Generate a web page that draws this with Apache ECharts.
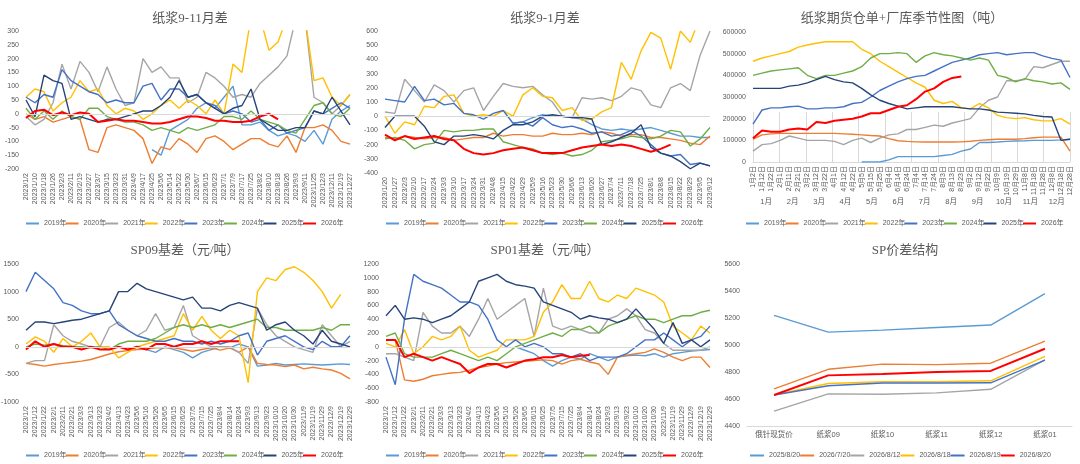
<!DOCTYPE html>
<html><head><meta charset="utf-8">
<script src="https://cdn.jsdelivr.net/npm/echarts@6/dist/echarts.min.js"></script>
<style>html,body{margin:0;padding:0;background:#fff}#c{width:1080px;height:464px}</style>
</head><body><div id="c"></div>
<script>
// ---------- shared ----------
const yearNames = ['2019年','2020年','2021年','2022年','2023年','2024年','2025年','2026年'];
const yearColors = ['#5B9BD5','#ED7D31','#A5A5A5','#FFC000','#4472C4','#70AD47','#264478','#FF0000'];

// ---------- panel 1: 纸浆9-11月差 ----------
const p1Dates = ['2023/1/2','2023/1/10','2023/1/18','2023/1/26','2023/2/3','2023/2/11','2023/2/19','2023/2/27','2023/3/7','2023/3/15','2023/3/23','2023/3/31','2023/4/9','2023/4/17','2023/4/25','2023/5/6','2023/5/14','2023/5/22','2023/5/30','2023/6/7','2023/6/15','2023/6/23','2023/7/1','2023/7/9','2023/7/17','2023/7/25','2023/8/2','2023/8/10','2023/8/18','2023/8/26','2023/9/3','2023/9/11','2023/11/25','2023/12/3','2023/12/11','2023/12/19','2023/12/27'];
const p1_2019 = [null,null,null,null,null,null,null,null,null,null,null,null,null,null,-130,-150,-60,-40,-20,20,40,20,60,100,-40,-40,-30,-60,-80,-70,-80,-100,-60,-110,-20,10,30];
const p1_2020 = [0,-20,-10,-30,-20,-10,-20,-130,-140,-50,-40,-50,-60,-90,-180,-120,-130,-90,-110,-140,-90,-80,-100,-130,-110,-90,-90,-110,-120,-80,-140,-50,-50,-40,-60,-100,-110];
const p1_2021 = [-10,-40,-20,40,180,90,190,150,80,170,90,30,40,200,150,170,130,130,40,60,150,130,100,60,70,60,110,140,170,210,350,350,60,40,0,30,70];
const p1_2022 = [60,90,80,10,40,60,120,80,90,30,0,20,10,-20,0,30,50,20,50,30,0,50,0,180,150,350,350,230,260,350,350,350,120,130,60,30,70];
const p1_2023 = [60,40,70,60,160,120,100,80,70,40,50,40,40,100,110,50,90,90,60,70,40,30,0,10,0,-30,-20,-60,-40,-70,-60,-50,10,0,20,40,20];
const p1_2024 = [20,-20,10,-20,10,-10,-20,20,20,-10,-20,-30,-30,-40,-60,-50,-60,-70,-50,-60,-50,-40,-10,-10,-20,10,-20,-30,-40,-60,-70,-20,30,40,0,-10,20];
const p1_2025 = [50,-10,140,120,110,-20,-10,-20,-30,-20,-20,-10,0,10,10,30,60,120,60,70,40,20,0,20,30,90,-20,-40,-60,-60,-50,-50,10,0,60,10,-40];
const p1_2026 = [-15,10,15,-5,5,-5,5,0,-30,-25,-20,-25,-25,-30,-35,-35,-30,-20,-10,-10,-15,-25,-25,-30,-30,-25,-10,0,-20,null,null,null,null,null,null,null,null];

// ---------- panel 2: 纸浆9-1月差 ----------
const p2Dates = ['2023/1/20','2023/1/27','2023/2/3','2023/2/10','2023/2/17','2023/2/24','2023/3/3','2023/3/10','2023/3/17','2023/3/24','2023/3/31','2023/4/8','2023/4/15','2023/4/22','2023/4/29','2023/5/9','2023/5/16','2023/5/23','2023/5/30','2023/6/6','2023/6/13','2023/6/20','2023/6/27','2023/7/4','2023/7/11','2023/7/18','2023/7/25','2023/8/1','2023/8/8','2023/8/15','2023/8/22','2023/8/29','2023/9/5','2023/9/12'];
const p2_2019 = [null,null,null,null,null,null,null,null,null,null,null,null,null,-50,-40,-10,10,0,0,-10,-20,-60,-90,-100,-90,-100,-90,-80,-100,-120,-140,-140,-150,-150];
const p2_2020 = [-150,-160,-140,-150,-160,-150,-150,-170,-160,-150,-150,-120,-140,-130,-130,-140,-140,-120,-130,-130,-120,-130,-110,-120,-140,-130,-130,-150,-150,-160,-170,-190,-200,-140];
const p2_2021 = [30,20,260,180,100,220,180,100,180,200,40,140,230,210,200,210,150,100,0,-10,130,120,130,110,140,200,180,80,60,200,230,180,430,600];
const p2_2022 = [0,-120,-40,-60,70,60,140,150,20,0,10,0,40,0,150,200,140,130,40,60,-30,-20,30,60,380,260,460,590,550,330,600,520,700,700];
const p2_2023 = [120,110,100,210,110,120,80,90,20,10,-20,20,40,-50,-40,-70,-10,-60,-80,-70,-90,-120,-110,-140,-130,-100,-140,-200,-260,-280,-270,-340,-330,-350];
const p2_2024 = [-160,-150,-170,-230,-200,-190,-100,-110,-100,-100,-90,-90,-180,-200,-220,-230,-260,-270,-260,-280,-270,-240,-180,-170,-160,-140,-150,-160,-140,-100,-110,-210,-160,-80];
const p2_2025 = [-80,0,0,0,-70,-180,-200,-140,-140,-130,-140,-160,-100,-60,-60,-40,0,10,0,-10,-10,-20,-200,-180,-150,-120,-60,-220,-260,-280,-320,-370,-330,-350];
const p2_2026 = [-130,-170,-140,-160,-150,-140,-160,-170,-230,-260,-270,-260,-240,-230,-220,-240,-260,-260,-260,-240,-220,-210,-200,-210,-200,-210,-230,-250,-230,-200,null,null,null,null];

// ---------- panel 3: 纸浆期货仓单+厂库季节性图（吨） ----------
const p3Days = ['1月2日','1月12日','1月22日','2月1日','2月11日','2月21日','3月2日','3月12日','3月22日','4月1日','4月12日','4月22日','5月5日','5月15日','5月25日','6月4日','6月14日','6月24日','7月4日','7月14日','7月24日','8月3日','8月13日','8月23日','9月2日','9月12日','9月22日','10月9日','10月19日','10月29日','11月8日','11月18日','11月28日','12月8日','12月18日','12月28日'];
const p3Months = ['1月','2月','3月','4月','5月','6月','7月','8月','9月','10月','11月','12月'];
const p3_2019 = [null,null,null,null,null,null,null,null,null,null,null,null,0,0,0,10000,25000,25000,25000,25000,25000,30000,35000,50000,60000,90000,90000,92000,95000,97000,98000,100000,100000,100000,102000,105000];
const p3_2020 = [105000,125000,130000,132000,132000,132000,132000,132000,132000,132000,130000,128000,125000,122000,120000,108000,98000,95000,93000,92000,92000,92000,92000,93000,96000,100000,103000,105000,105000,105000,108000,112000,115000,115000,115000,50000];
const p3_2021 = [50000,80000,85000,100000,120000,110000,100000,100000,100000,95000,80000,100000,110000,90000,110000,125000,130000,150000,150000,160000,170000,165000,180000,190000,200000,250000,285000,300000,375000,375000,380000,440000,435000,450000,465000,465000];
const p3_2022 = [465000,480000,490000,500000,510000,530000,540000,548000,555000,555000,555000,555000,520000,500000,465000,440000,415000,390000,365000,345000,285000,270000,280000,250000,245000,270000,250000,215000,205000,200000,205000,195000,190000,190000,200000,175000];
const p3_2023 = [175000,240000,250000,250000,255000,258000,245000,245000,250000,250000,255000,270000,275000,300000,330000,350000,370000,385000,395000,400000,420000,440000,460000,470000,480000,495000,500000,505000,495000,500000,505000,505000,490000,478000,470000,390000];
const p3_2024 = [400000,410000,420000,425000,430000,435000,400000,385000,400000,400000,410000,420000,440000,480000,500000,500000,505000,500000,460000,490000,505000,495000,490000,480000,470000,480000,470000,400000,390000,370000,385000,375000,370000,360000,365000,335000];
const p3_2025 = [340000,340000,340000,340000,350000,355000,365000,380000,395000,380000,370000,365000,340000,310000,285000,270000,258000,245000,250000,255000,255000,255000,255000,250000,245000,245000,240000,230000,228000,225000,222000,215000,210000,208000,100000,105000];
const p3_2026 = [110000,145000,140000,140000,150000,155000,150000,185000,180000,190000,195000,200000,210000,225000,225000,240000,255000,262000,290000,325000,340000,370000,388000,395000,null,null,null,null,null,null,null,null,null,null,null,null];

// ---------- panels 4 & 5: 基差 ----------
const basisDates = ['2023/1/2','2023/1/12','2023/1/22','2023/2/1','2023/2/11','2023/2/21','2023/3/3','2023/3/13','2023/3/23','2023/4/2','2023/4/13','2023/4/23','2023/5/6','2023/5/16','2023/5/26','2023/6/5','2023/6/15','2023/6/25','2023/7/5','2023/7/15','2023/7/25','2023/8/4','2023/8/14','2023/8/24','2023/9/3','2023/9/13','2023/9/23','2023/10/10','2023/10/20','2023/10/30','2023/11/9','2023/11/19','2023/11/29','2023/12/9','2023/12/19','2023/12/29'];
const p4_2019 = [null,null,null,null,null,null,null,null,null,null,null,null,null,-50,-100,0,-50,-100,-200,-100,-50,0,-20,50,0,-350,-330,-300,-330,-320,-310,-320,-330,-320,-310,-320];
const p4_2020 = [-300,-320,-350,-320,-300,-280,-260,-230,-180,-130,-90,-70,-50,-40,-20,-20,-20,-50,-80,-50,-20,-60,-20,-100,0,-300,-320,-330,-360,-330,-400,-370,-400,-420,-480,-580];
const p4_2021 = [-300,-250,-250,400,200,100,50,0,0,350,450,300,200,300,600,300,350,750,200,100,0,0,0,-100,-300,700,400,200,100,0,-50,-100,400,200,0,100];
const p4_2022 = [50,180,100,-100,150,0,100,250,0,0,-200,-100,0,50,100,150,200,600,300,550,300,150,300,200,-650,1000,1250,1200,1400,1450,1350,1200,1000,700,950,null];
const p4_2023 = [1000,1350,1200,1050,800,750,650,600,600,650,400,300,200,150,100,100,150,100,100,50,100,50,100,200,250,-150,100,150,200,100,0,-50,100,0,0,200];
const p4_2024 = [0,50,30,50,20,0,0,-20,0,-50,50,100,100,100,150,250,350,400,350,400,350,400,350,400,450,500,350,350,300,300,300,300,350,300,400,400];
const p4_2025 = [300,450,450,420,450,480,500,550,600,650,1000,1000,1150,1050,1000,950,900,850,900,700,700,650,750,800,750,700,300,400,450,300,200,50,300,100,50,0];
const p4_2026 = [-50,100,0,50,0,0,-50,0,-50,-50,0,-50,0,-50,50,50,0,50,50,100,50,100,100,100,null,null,null,null,null,null,null,null,null,null,null,null];

const p5_2019 = [null,null,null,null,null,null,null,null,null,null,null,null,null,null,0,-50,-100,-200,-280,-200,-150,-180,-100,-150,-200,-150,-130,-120,-130,-100,-150,-100,-80,-60,-50,-40];
const p5_2020 = [100,100,-480,-500,-470,-420,-400,-380,-370,-340,-300,-280,-250,-230,-220,-210,-200,-190,-200,-250,-200,-180,-220,-250,-400,-150,-120,-100,-80,-30,-80,-150,-200,-150,-150,-300];
const p5_2021 = [-100,-100,-150,-200,500,300,200,200,300,150,400,700,400,500,600,700,150,850,300,250,300,250,200,200,400,450,550,450,250,200,50,-50,-50,-50,-50,0];
const p5_2022 = [50,0,250,-100,0,150,100,150,300,-50,-150,-100,-50,100,100,100,150,500,650,900,700,700,950,700,650,750,700,850,800,750,650,300,200,100,300,200];
const p5_2023 = [-150,-550,400,1050,950,900,850,750,650,650,600,400,100,0,100,0,50,0,-100,-100,-150,-100,-200,-150,-150,-150,-100,0,100,100,200,100,0,100,150,300];
const p5_2024 = [150,200,-100,-150,-150,-150,-100,-50,-100,-150,-200,-150,-200,-100,0,50,100,150,200,150,250,250,300,200,300,350,400,450,400,400,350,400,450,450,500,530];
const p5_2025 = [450,600,400,420,400,350,400,450,550,650,950,1000,1050,950,900,880,850,650,600,550,500,400,450,420,400,350,400,550,400,250,50,350,50,100,0,100];
const p5_2026 = [100,100,-150,-100,-150,-200,-150,-200,-250,-380,-300,-250,-250,-300,-250,-200,-180,-150,-150,-120,-150,-130,-120,null,null,null,null,null,null,null,null,null,null,null,null,null];

// ---------- panel 6: SP价差结构 ----------
const p6Cats = ['俄针现货价','纸浆09','纸浆10','纸浆11','纸浆12','纸浆01'];
const p6Names = ['2025/8/20','2026/7/20','2026/8/12','2026/8/18','2026/8/19','2026/8/20'];
const p6Colors = ['#5B9BD5','#ED7D31','#A5A5A5','#FFC000','#4472C4','#FF0000'];
const p6_20250820 = [5220,5095,5110,5130,5148,5380];
const p6_20260720 = [4675,4820,4858,4855,4865,5028];
const p6_20260812 = [4510,4638,4635,4645,4672,4890];
const p6_20260818 = [4630,4715,4728,4728,4735,4915];
const p6_20260819 = [4630,4698,4718,4718,4720,4888];
const p6_20260820 = [4630,4775,4785,4800,4808,4972];

// ---------- build ----------
const LBL = '"Liberation Sans","Noto Sans CJK SC",sans-serif';
const TTL = '"Liberation Serif","Noto Sans CJK SC",serif';
const TXT = '#595959';
const AX = '#D9D9D9';
const plain = v => String(v);

const panels = [
  {title:'纸浆9-11月差', tx:185, ty:7, grid:{left:26,top:31,width:324,height:138}, cats:p1Dates, min:-200, max:300, step:50,
   data:[p1_2019,p1_2020,p1_2021,p1_2022,p1_2023,p1_2024,p1_2025,p1_2026], legendX:21, legendY:215, zero:true},
  {title:'纸浆9-1月差', tx:540, ty:7, grid:{left:385,top:31,width:325,height:142}, cats:p2Dates, min:-400, max:600, step:100,
   data:[p2_2019,p2_2020,p2_2021,p2_2022,p2_2023,p2_2024,p2_2025,p2_2026], legendX:381, legendY:215, zero:true},
  {title:'纸浆期货仓单+厂库季节性图（吨）', tx:897, ty:7, grid:{left:753,top:32,width:317,height:130}, cats:p3Days, min:0, max:600000, step:100000,
   data:[p3_2019,p3_2020,p3_2021,p3_2022,p3_2023,p3_2024,p3_2025,p3_2026], legendX:741, legendY:215, zero:false, months:true},
  {title:'SP09基差（元/吨）', tx:180, ty:239, grid:{left:26,top:264,width:324,height:138}, cats:basisDates, min:-1000, max:1500, step:500,
   data:[p4_2019,p4_2020,p4_2021,p4_2022,p4_2023,p4_2024,p4_2025,p4_2026], legendX:21, legendY:447, zero:true},
  {title:'SP01基差（元/吨）', tx:540, ty:239, grid:{left:386,top:264,width:324,height:138}, cats:basisDates, min:-800, max:1200, step:200,
   data:[p5_2019,p5_2020,p5_2021,p5_2022,p5_2023,p5_2024,p5_2025,p5_2026], legendX:381, legendY:447, zero:true}
];

const legendBase = {orient:'horizontal', icon:'rect', itemWidth:13, itemHeight:2, width:400, selectedMode:false,
  textStyle:{fontSize:7, color:TXT, fontFamily:LBL}};

const grids=[], xAxes=[], yAxes=[], series=[], titles=[], legends=[];
panels.forEach((p,gi)=>{
  grids.push(Object.assign({outerBoundsMode:'none', containLabel:false}, p.grid));
  titles.push({text:p.title, left:p.tx, top:p.ty, textAlign:'center',
    textStyle:{fontFamily:TTL, fontSize:13, fontWeight:'normal', color:TXT}});
  const xi = xAxes.length;
  xAxes.push({gridIndex:gi, type:'category', data:p.cats, boundaryGap:false,
    axisLine:{show:!p.zero, onZero:false, lineStyle:{color:AX}}, axisTick:{show:false},
    axisLabel:{rotate:90, interval:0, fontSize:7, color:TXT, fontFamily:LBL, margin:4}});
  if (p.months) {
    xAxes.push({gridIndex:gi, type:'category', data:p3Months, position:'bottom', offset:50, boundaryGap:true,
      axisLine:{show:false}, axisTick:{show:true, inside:true, length:50, lineStyle:{color:AX}},
      axisLabel:{fontSize:7.5, color:TXT, fontFamily:LBL, margin:-14, interval:0}});
  }
  yAxes.push({gridIndex:gi, type:'value', min:p.min, max:p.max, interval:p.step,
    splitLine:{show:false}, axisLine:{show:false}, axisTick:{show:false},
    axisLabel:{fontSize:7, color:TXT, fontFamily:LBL, margin:7, formatter:plain}});
  p.data.forEach((d,k)=>{
    const s = {type:'line', name:yearNames[k], data:d, xAxisIndex:xi, yAxisIndex:gi, symbol:'none', showSymbol:false,
      lineStyle:{width:k===7?2:1.4, color:yearColors[k]}, itemStyle:{color:yearColors[k]},
      animation:false, clip:true, z:k===7?4:2};
    if (k===0 && p.zero) {
      s.markLine = {silent:true, symbol:'none', label:{show:false}, animation:false,
        lineStyle:{color:AX, type:'solid', width:1}, data:[{yAxis:0}]};
    }
    series.push(s);
  });
  legends.push(Object.assign({}, legendBase, {data:yearNames, left:p.legendX, top:p.legendY, itemGap:-1}));
});

// panel 6
const g6 = grids.length;
grids.push({left:747, top:264, width:325, height:162, outerBoundsMode:'none', containLabel:false});
titles.push({text:'SP价差结构', left:900, top:239, textAlign:'center',
  textStyle:{fontFamily:TTL, fontSize:13, fontWeight:'normal', color:TXT}});
const x6 = xAxes.length;
xAxes.push({gridIndex:g6, type:'category', data:p6Cats, boundaryGap:true,
  axisLine:{show:true, lineStyle:{color:AX}}, axisTick:{show:false},
  axisLabel:{fontSize:7.5, color:TXT, fontFamily:LBL, margin:5, interval:0}});
yAxes.push({gridIndex:g6, type:'value', min:4400, max:5600, interval:200,
  splitLine:{show:false}, axisLine:{show:false}, axisTick:{show:false},
  axisLabel:{fontSize:7, color:TXT, fontFamily:LBL, margin:7, formatter:plain}});
[p6_20250820,p6_20260720,p6_20260812,p6_20260818,p6_20260819,p6_20260820].forEach((d,k)=>{
  series.push({type:'line', name:p6Names[k], data:d, xAxisIndex:x6, yAxisIndex:g6, symbol:'none', showSymbol:false,
    lineStyle:{width:k===5?2:1.4, color:p6Colors[k]}, itemStyle:{color:p6Colors[k]}, animation:false, z:k===5?4:2});
});
legends.push(Object.assign({}, legendBase, {data:p6Names, left:745, top:447, itemWidth:14, itemGap:0}));

const chart = echarts.init(document.getElementById('c'), null, {renderer:'canvas'});
chart.setOption({backgroundColor:'#fff', animation:false, title:titles, grid:grids, xAxis:xAxes, yAxis:yAxes, legend:legends, series:series});
</script></body></html>
